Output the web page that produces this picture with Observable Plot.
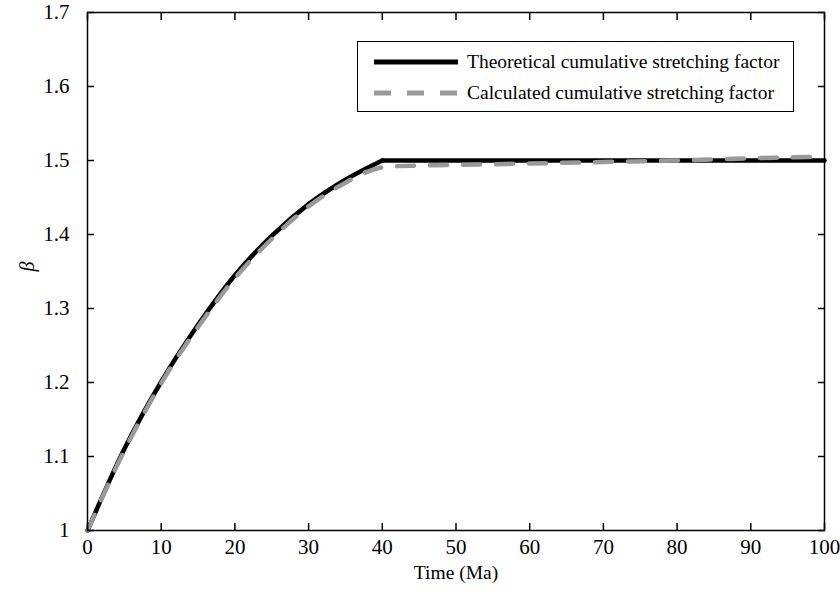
<!DOCTYPE html>
<html>
<head>
<meta charset="utf-8">
<script src="https://cdn.jsdelivr.net/npm/d3@7"></script>
<script src="https://cdn.jsdelivr.net/npm/@observablehq/plot@0.6"></script>
<style>
  body { margin: 0; background: #fff; }
  #wrap { position: relative; width: 840px; height: 600px; font-family: "Liberation Serif", "Times New Roman", serif; }
  #legend { position: absolute; left: 357px; top: 41px; width: 437px; height: 71px; border: 1.5px solid #000; box-sizing: border-box; background: #fff; font-size: 19.5px; }
  .row { position: absolute; left: 16px; display: flex; align-items: center; }
  .row svg { margin-right: 9px; }
</style>
</head>
<body>
<div id="wrap">
  <div id="chart"></div>
  <div id="legend"></div>
</div>
<script>
const timeTheo = [0, 5, 10, 15, 20, 25, 30, 35, 40, 100];
const betaTheo = [1.0, 1.110, 1.201, 1.278, 1.345, 1.398, 1.441, 1.474, 1.500, 1.500];
const timeCalc = [0, 5, 10, 15, 20, 25, 30, 35, 38, 41, 50, 60, 70, 80, 90, 100];
const betaCalc = [1.0, 1.108, 1.199, 1.275, 1.341, 1.394, 1.438, 1.470, 1.485, 1.492, 1.494, 1.496, 1.498, 1.500, 1.503, 1.505];
const seriesNames = ["Theoretical cumulative stretching factor", "Calculated cumulative stretching factor"];
const xTicks = [0, 10, 20, 30, 40, 50, 60, 70, 80, 90, 100];
const yTicks = [1, 1.1, 1.2, 1.3, 1.4, 1.5, 1.6, 1.7];

const theo = timeTheo.map((t, i) => ({t, b: betaTheo[i]}));
const calc = timeCalc.map((t, i) => ({t, b: betaCalc[i]}));

const chart = Plot.plot({
  width: 840,
  height: 600,
  marginLeft: 87,
  marginRight: 16,
  marginTop: 12,
  marginBottom: 70,
  style: {fontFamily: "'Liberation Serif', 'Times New Roman', serif", fontSize: "20px", color: "#000", background: "#fff"},
  x: {domain: [0, 100]},
  y: {domain: [1, 1.7]},
  marks: [
    Plot.line(theo.filter(d => d.t <= 40), {x: "t", y: "b", stroke: "#000", strokeWidth: 4.5, curve: "monotone-x"}),
    Plot.line(theo.filter(d => d.t >= 40), {x: "t", y: "b", stroke: "#000", strokeWidth: 4.5}),
    Plot.line(calc, {x: "t", y: "b", stroke: "#999", strokeWidth: 4.5, strokeDasharray: "17,16", curve: "monotone-x"}),
    Plot.frame({stroke: "#000", strokeWidth: 1.5}),
    Plot.text(xTicks, {x: d => d, frameAnchor: "bottom", dy: 23, fontSize: 21, text: d => String(d)}),
    Plot.axisX({ticks: xTicks, tickSize: -7, text: null, label: null, anchor: "bottom", strokeWidth: 1.5}),
    Plot.axisX({ticks: xTicks, tickSize: -7, text: null, label: null, anchor: "top", strokeWidth: 1.5}),
    Plot.text(yTicks, {y: d => d, frameAnchor: "left", dx: -18, textAnchor: "end", fontSize: 21, text: d => String(d)}),
    Plot.axisY({ticks: yTicks, tickSize: -7, text: null, label: null, anchor: "left", strokeWidth: 1.5}),
    Plot.axisY({ticks: yTicks, tickSize: -7, text: null, label: null, anchor: "right", strokeWidth: 1.5}),
    Plot.text(["Time (Ma)"], {frameAnchor: "bottom", dy: 48, fontSize: 19.5}),
    Plot.text(["β"], {frameAnchor: "left", dx: -60, rotate: -90, fontSize: 20, fontStyle: "italic"})
  ]
});
document.getElementById("chart").appendChild(chart);

const legend = document.getElementById("legend");
const styles = [
  {stroke: "#000", dash: null, top: 9},
  {stroke: "#999", dash: "17,16", top: 40}
];
seriesNames.forEach((name, i) => {
  const s = styles[i];
  const row = document.createElement("div");
  row.className = "row";
  row.style.top = s.top + "px";
  row.innerHTML = `<svg width="84" height="20"><line x1="0" x2="84" y1="10" y2="10" stroke="${s.stroke}" stroke-width="5" ${s.dash ? `stroke-dasharray="${s.dash}"` : ""}/></svg><span>${name}</span>`;
  legend.appendChild(row);
});
</script>
</body>
</html>
